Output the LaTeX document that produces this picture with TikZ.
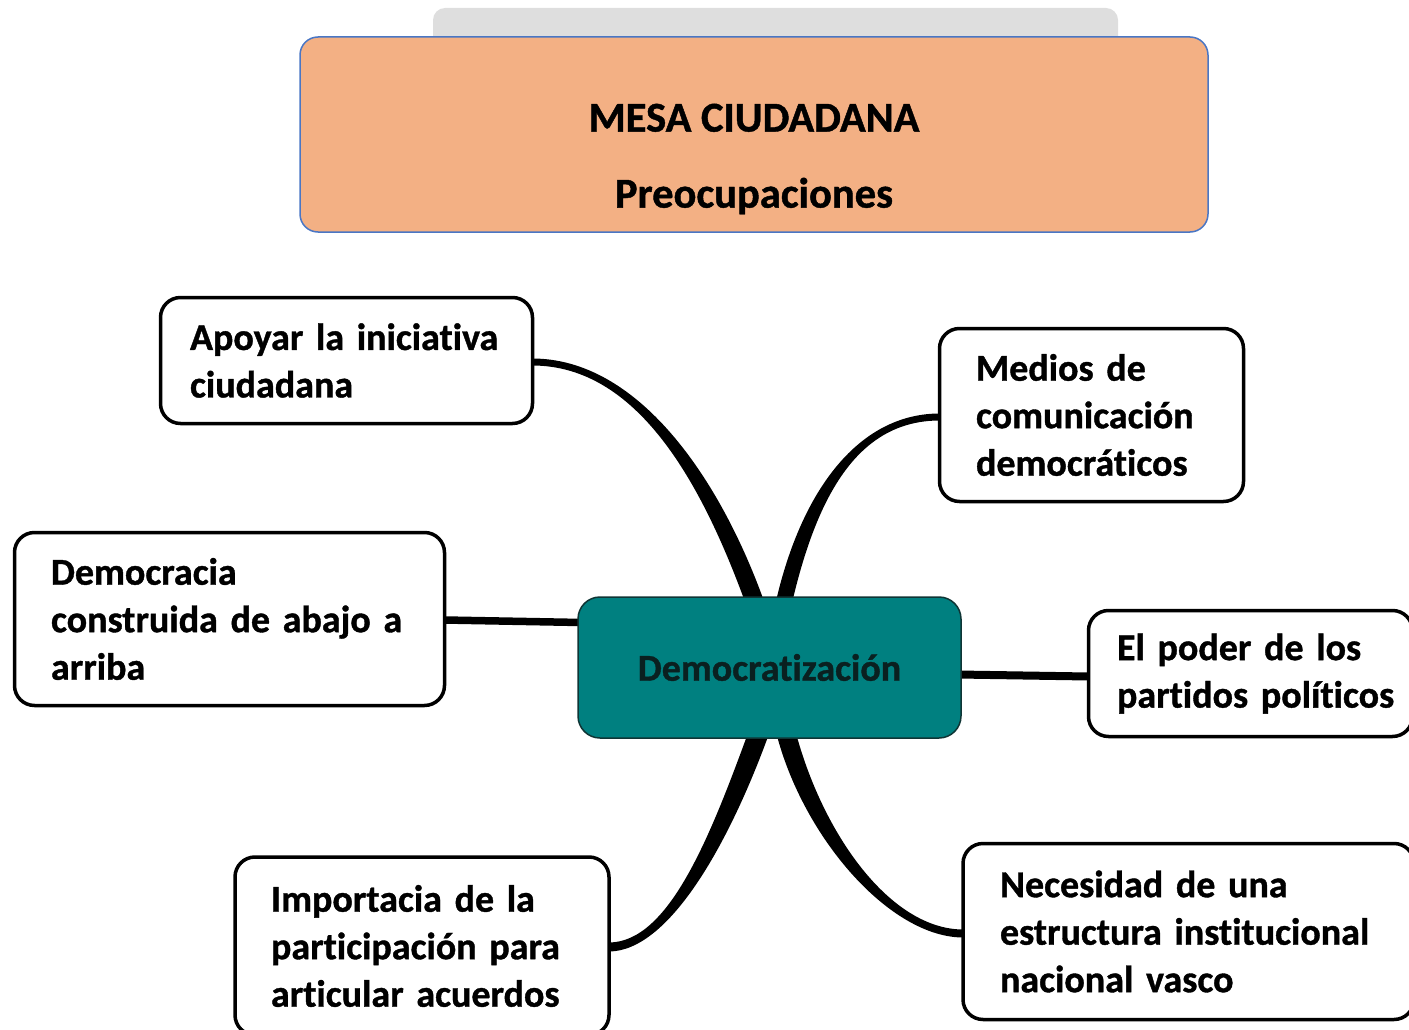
\documentclass[tikz,border=0pt]{standalone}
\usepackage{fontspec}
\setmainfont{Carlito}[Ligatures=NoCommon, WordSpace=0.7, BoldFeatures={FakeBold=1}]
\newfontfamily\hdrfont{Carlito}[Ligatures=NoCommon, BoldFeatures={FakeBold=1}]
\usetikzlibrary{calc}
\pgfdeclarelayer{bg}
\pgfsetlayers{bg,main}
\definecolor{hdrfill}{HTML}{F3B084}
\definecolor{hdrline}{HTML}{4A76C4}
\definecolor{tabgray}{HTML}{DEDEDE}
\definecolor{tealfill}{HTML}{008080}
\definecolor{tealline}{HTML}{0F3535}
\definecolor{tealtext}{HTML}{0A2020}
\newcommand{\taperbranch}[6]{%
  \fill ($#1+#5$) .. controls +#2 and +#3 .. ($#4+#6$) -- ($#4-#6$) .. controls +#3 and +#2 .. ($#1-#5$) -- cycle;}
\begin{document}
\begin{tikzpicture}[x=1pt,y=-1pt,
  leafbox/.style={draw=black, line width=3.5pt, rounded corners=20pt, fill=white,
    align=left, inner xsep=0pt, inner ysep=0pt,
    font=\fontsize{38}{47.5}\selectfont\bfseries},
  hdrbox/.style={draw=hdrline, line width=1.5pt, rounded corners=18pt, fill=hdrfill,
    minimum width=908pt, minimum height=195pt, inner sep=0pt},
  hdrtextstyle/.style={align=center, inner sep=0pt, font=\hdrfont\fontsize{42.5}{76}\selectfont\bfseries},
  centerbox/.style={draw=tealline, line width=1.5pt, rounded corners=22pt, fill=tealfill,
    minimum width=383pt, minimum height=141pt, inner sep=0pt, text=tealtext,
    font=\fontsize{38}{44}\selectfont\bfseries},
  linkline/.style={line width=7.5pt}
]
\useasboundingbox (0,0) rectangle (1409,1030);
\clip (0,0) rectangle (1409,1030);

% header
\fill[tabgray, rounded corners=12pt] (433,60) -- (433,8) -- (1118,8) -- (1118,60) -- cycle;
\node[hdrbox] (hdr) at (754,134.5) {};
\node[hdrtextstyle] (hdrtext) at (754,159) {MESA CIUDADANA\\Preocupaciones};

% central node
\node[centerbox] (ctr) at (769.5,667.5) {Democratización};

% leaves
\node[leafbox, minimum width=372pt, minimum height=126pt, text width=313pt] (A) at (346.5,360.5)
  {\mbox{Apoyar la iniciativa}\\\mbox{ciudadana}};
\node[leafbox, minimum width=304pt, minimum height=173pt, text width=231pt] (B) at (1091.5,415)
  {\mbox{Medios de}\\\mbox{comunicación}\\\mbox{democráticos}};
\node[leafbox, minimum width=430pt, minimum height=173pt, text width=357pt] (C) at (229.5,619)
  {\mbox{Democracia}\\\mbox{construida de abajo a}\\\mbox{arriba}};
\node[leafbox, minimum width=324pt, minimum height=126pt, text width=267pt] (D) at (1250.5,673.5)
  {\mbox{El poder de los}\\\mbox{partidos políticos}};
\node[leafbox, minimum width=374pt, minimum height=178pt, text width=302pt] (E) at (422,946)
  {\mbox{Importacia de la}\\\mbox{participación para}\\\mbox{articular acuerdos}};
\node[leafbox, minimum width=451pt, minimum height=176pt, text width=377pt] (F) at (1188.5,931.5)
  {\mbox{Necesidad de una}\\\mbox{estructura institucional}\\\mbox{nacional vasco}};

% connectors
\begin{pgfonlayer}{bg}
  \taperbranch{(A.east)+(-2,1.5)}{(105,0)}{(-45,-125)}{(ctr.north)+(-14,8)}{(0,-3.5)}{(8.5,-3.1)}
  \taperbranch{(B.west)+(2,2)}{(-80,0)}{(26,-114)}{(ctr.north)+(14,8)}{(0,-3.5)}{(-7.8,-1.8)}
  \taperbranch{(E.east)+(-2,1)}{(60,0)}{(-40,110)}{(ctr.south)+(-10,-8)}{(0,4.5)}{(9.4,3.4)}
  \taperbranch{(F.west)+(2,2)}{(-73,0)}{(27,105)}{(ctr.south)+(16,-8)}{(0,4)}{(-9.2,2.4)}
  \draw[linkline] ($(C.east)+(-2,1)$) -- ($(ctr.west)+(4,-45)$);
  \draw[linkline, line width=8pt] ($(ctr.east)+(-4,7)$) -- ($(D.west)+(2,3)$);
\end{pgfonlayer}
\end{tikzpicture}
\end{document}
